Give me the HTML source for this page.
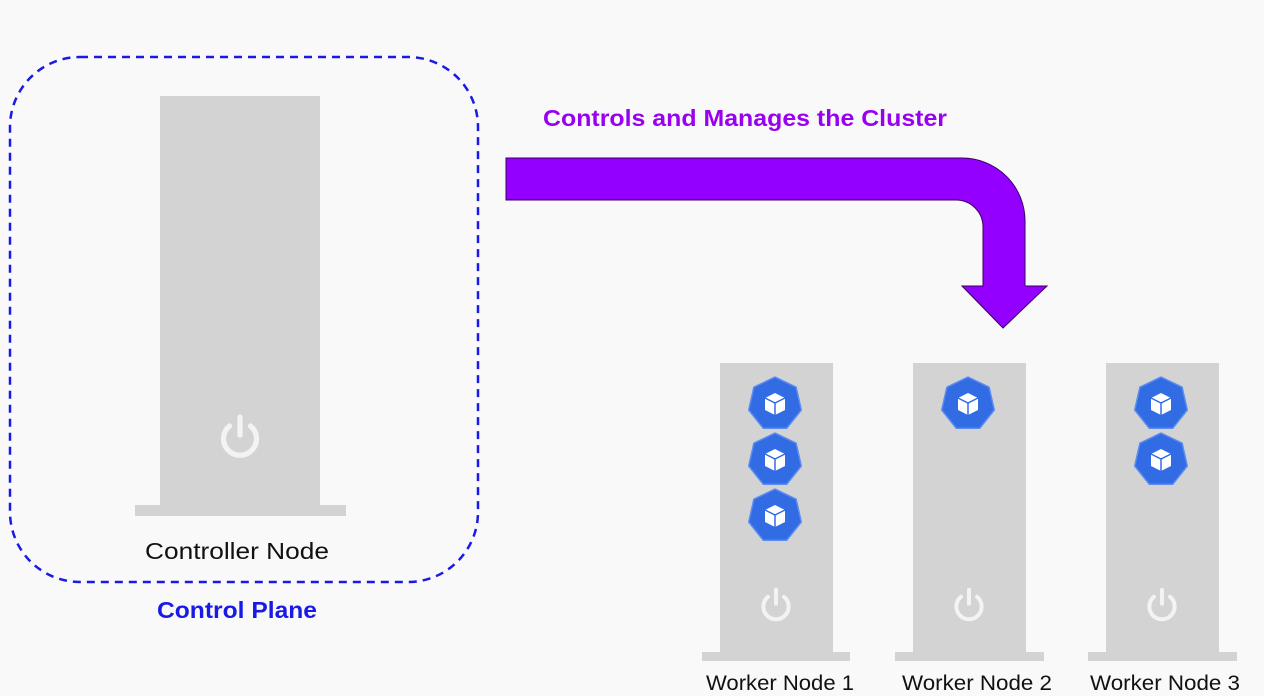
<!DOCTYPE html>
<html><head><meta charset="utf-8"><style>
html,body{margin:0;padding:0;background:#f9f9f9;}
svg{display:block;}
text{font-family:"Liberation Sans",sans-serif;}
</style></head><body>
<svg width="1264" height="696" viewBox="0 0 1264 696" xmlns="http://www.w3.org/2000/svg">
<defs>
<g id="pod">
<polygon points="0,-27 21.1,-16.8 26.3,6 11.7,24.3 -11.7,24.3 -26.3,6 -21.1,-16.8" fill="#326ce5" stroke="#5a8cf0" stroke-width="1.5" stroke-linejoin="round"/>
<polygon points="0,-11 10,-6 10,6 0,11 -10,6 -10,-6" fill="#fff"/>
<polyline points="-10,-6 0,-1 10,-6" fill="none" stroke="#326ce5" stroke-width="1.5"/>
<line x1="0" y1="-1" x2="0" y2="11" stroke="#326ce5" stroke-width="1.5"/>
</g>
<g id="pwr">
<path d="M -7 -8 A 11 11 0 1 0 7 -8" fill="none" stroke="#f3f3f3" stroke-width="3.5" stroke-linecap="round"/>
<line x1="0" y1="-14" x2="0" y2="-2" stroke="#f3f3f3" stroke-width="3.5" stroke-linecap="round"/>
</g>
</defs>
<rect x="10" y="57" width="468" height="525" rx="70" fill="none" stroke="#1a1ae6" stroke-width="2.5" stroke-dasharray="8,6"/>
<rect x="160" y="96" width="160" height="410" fill="#d3d3d3"/>
<rect x="135" y="505" width="211" height="11" fill="#d3d3d3"/>
<g transform="translate(240,438) scale(1.5)"><use href="#pwr"/></g>
<text x="145" y="559" font-size="23" textLength="184" lengthAdjust="spacingAndGlyphs" fill="#111">Controller Node</text>
<text x="157" y="618" font-size="23" font-weight="bold" textLength="160" lengthAdjust="spacingAndGlyphs" fill="#1a1ae6">Control Plane</text>
<text x="543" y="126" font-size="23" font-weight="bold" textLength="404" lengthAdjust="spacingAndGlyphs" fill="#9a00f0">Controls and Manages the Cluster</text>
<path d="M506 158 L962 158 A63 63 0 0 1 1025 221 L1025 286 L1047 286 L1003 328 L962 286 L983 286 L983 227 A27 27 0 0 0 956 200 L506 200 Z" fill="#9400ff" stroke="#3a0060" stroke-width="1"/>
<g fill="#d3d3d3">
<rect x="720" y="363" width="113" height="292"/><rect x="702" y="652" width="148" height="9"/>
<rect x="913" y="363" width="113" height="292"/><rect x="895" y="652" width="149" height="9"/>
<rect x="1106" y="363" width="113" height="292"/><rect x="1088" y="652" width="149" height="9"/>
</g>
<use href="#pod" x="775" y="404"/><use href="#pod" x="775" y="460"/><use href="#pod" x="775" y="516"/>
<use href="#pod" x="968" y="404"/>
<use href="#pod" x="1161" y="404"/><use href="#pod" x="1161" y="460"/>
<g transform="translate(776,606) scale(1.15)"><use href="#pwr"/></g>
<g transform="translate(969,606) scale(1.15)"><use href="#pwr"/></g>
<g transform="translate(1162,606) scale(1.15)"><use href="#pwr"/></g>
<text x="706" y="690" font-size="21" textLength="148" lengthAdjust="spacingAndGlyphs" fill="#111">Worker Node 1</text>
<text x="902" y="690" font-size="21" textLength="150" lengthAdjust="spacingAndGlyphs" fill="#111">Worker Node 2</text>
<text x="1090" y="690" font-size="21" textLength="150" lengthAdjust="spacingAndGlyphs" fill="#111">Worker Node 3</text>
</svg>
</body></html>
